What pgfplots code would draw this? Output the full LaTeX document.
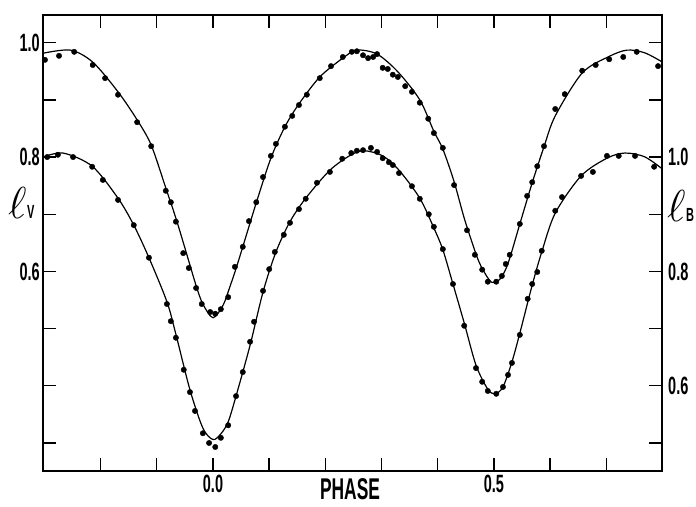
\documentclass[border=0pt]{standalone}
\usepackage{fontspec}
\usepackage{graphicx}
\usepackage{pgfplots}
\usepackage{pgfplotstable}
\pgfplotsset{compat=1.18}
\newfontfamily\cond{Liberation Sans}[FakeStretch=0.58]

\pgfplotstableread{
x y
-0.305 0.981
-0.254 0.987
-0.214 0.966
-0.169 0.914
-0.135 0.865
-0.110 0.821
-0.084 0.746
-0.066 0.693
-0.050 0.641
-0.030 0.575
-0.018 0.543
0.000 0.519
0.018 0.541
0.030 0.573
0.041 0.605
0.053 0.643
0.077 0.720
0.103 0.798
0.128 0.853
0.153 0.893
0.190 0.940
0.231 0.973
0.256 0.987
0.292 0.980
0.329 0.949
0.368 0.900
0.393 0.845
0.409 0.814
0.429 0.757
0.448 0.690
0.470 0.625
0.482 0.600
0.496 0.581
0.511 0.587
0.525 0.614
0.546 0.683
0.568 0.755
0.589 0.818
0.609 0.872
0.657 0.947
0.705 0.976
0.737 0.987
0.769 0.982
0.805 0.963
}\Vcurve

\pgfplotstableread{
x y
-0.299 0.970
-0.274 0.977
-0.247 0.984
-0.214 0.961
-0.192 0.938
-0.169 0.909
-0.135 0.861
-0.110 0.819
-0.084 0.741
-0.075 0.721
-0.066 0.687
-0.053 0.632
-0.043 0.606
-0.030 0.571
-0.020 0.543
-0.005 0.529
0.004 0.526
0.014 0.534
0.027 0.555
0.039 0.608
0.053 0.643
0.064 0.688
0.077 0.721
0.089 0.765
0.103 0.802
0.112 0.823
0.128 0.853
0.141 0.872
0.153 0.891
0.167 0.909
0.190 0.938
0.210 0.959
0.231 0.975
0.247 0.984
0.256 0.985
0.267 0.978
0.276 0.973
0.285 0.975
0.292 0.980
0.302 0.956
0.311 0.954
0.320 0.944
0.329 0.940
0.342 0.924
0.354 0.914
0.368 0.895
0.383 0.867
0.393 0.842
0.409 0.816
0.429 0.751
0.452 0.672
0.466 0.629
0.479 0.603
0.489 0.582
0.504 0.582
0.514 0.592
0.521 0.613
0.528 0.629
0.546 0.683
0.559 0.732
0.568 0.756
0.577 0.784
0.589 0.819
0.609 0.884
0.626 0.910
0.657 0.951
0.681 0.961
0.705 0.971
0.730 0.975
0.754 0.984
0.792 0.959
}\Vdots

\pgfplotstableread{
x y
-0.305 0.999
-0.267 1.007
-0.215 0.984
-0.169 0.928
-0.141 0.881
-0.114 0.824
-0.082 0.747
-0.066 0.690
-0.041 0.593
-0.018 0.526
0.000 0.506
0.014 0.516
0.027 0.537
0.041 0.582
0.066 0.671
0.089 0.764
0.112 0.834
0.137 0.887
0.165 0.928
0.208 0.977
0.246 1.004
0.270 1.011
0.302 1.002
0.331 0.977
0.368 0.928
0.393 0.876
0.409 0.838
0.427 0.778
0.447 0.710
0.468 0.636
0.489 0.594
0.502 0.586
0.516 0.598
0.532 0.642
0.546 0.692
0.568 0.776
0.585 0.834
0.609 0.902
0.655 0.967
0.701 0.998
0.733 1.007
0.769 1.000
0.805 0.975
}\Bcurve

\pgfplotstableread{
x y
-0.295 1.000
-0.276 1.004
-0.249 1.000
-0.215 0.983
-0.196 0.960
-0.169 0.925
-0.141 0.881
-0.114 0.824
-0.082 0.743
-0.075 0.713
-0.066 0.684
-0.052 0.628
-0.041 0.589
-0.032 0.556
-0.018 0.517
-0.007 0.500
0.004 0.493
0.014 0.509
0.027 0.531
0.041 0.582
0.053 0.624
0.066 0.677
0.073 0.712
0.089 0.766
0.100 0.804
0.110 0.834
0.126 0.864
0.137 0.885
0.153 0.909
0.165 0.927
0.185 0.955
0.208 0.974
0.230 0.997
0.246 1.007
0.256 1.011
0.267 1.012
0.281 1.016
0.292 1.009
0.302 0.998
0.313 0.991
0.320 0.986
0.331 0.972
0.354 0.949
0.368 0.927
0.384 0.900
0.393 0.878
0.409 0.839
0.427 0.778
0.447 0.705
0.468 0.631
0.479 0.607
0.489 0.591
0.504 0.586
0.516 0.598
0.525 0.619
0.532 0.640
0.546 0.689
0.560 0.752
0.568 0.778
0.577 0.799
0.585 0.836
0.609 0.906
0.621 0.930
0.655 0.967
0.676 0.974
0.701 1.002
0.722 1.002
0.751 1.002
0.785 0.983
}\Bdots

\begin{document}
\begin{tikzpicture}
\pgfplotsset{
  common/.style={
    scale only axis, width=619pt, height=456pt,
    at={(0,0)}, anchor=south west,
    xmin=-0.3025, xmax=0.799,
    tick align=inside, major tick length=13pt,
    every tick/.style={line width=1.4pt, black},
    tick label style={font=\cond\bfseries\fontsize{25}{25}\selectfont},
  }
}
\begin{axis}[common, name=main,
  ymin=0.251, ymax=1.0484,
  xtick={-0.2,-0.1,0,0.1,0.2,0.3,0.4,0.5,0.6,0.7},
  xticklabels={,,0.0,,,,,0.5,,},
  ytick={0.3,0.4,0.5,0.6,0.7,0.8,0.9,1.0},
  yticklabels={,,,0.6,,0.8,,1.0},
  xtick pos=both, ytick pos=left,
  axis line style={line width=1.8pt},
  yticklabel style={inner sep=3pt},
  xticklabel style={inner sep=4pt},
]
\addplot[black, line width=1.2pt, smooth] table {\Vcurve};
\addplot[only marks, mark=*, mark size=2.7pt, black] table {\Vdots};
\end{axis}
\begin{axis}[common,
  ymin=0.451, ymax=1.2484,
  axis x line=none, axis y line*=right,
  y axis line style={-, line width=1.8pt},
  ytick={0.5,0.6,0.7,0.8,0.9,1.0,1.1,1.2},
  yticklabels={,0.6,,0.8,,1.0,,},
  yticklabel style={inner sep=6pt},
]
\addplot[black, line width=1.2pt, smooth] table {\Bcurve};
\addplot[only marks, mark=*, mark size=2.7pt, black] table {\Bdots};
\end{axis}
\node[anchor=base west, inner sep=0pt] at ([xshift=-35pt, yshift=252pt]main.south west)
  {\scalebox{1.8}{\Huge$\ell$}\kern0.5pt{\cond\bfseries\fontsize{19}{19}\selectfont V}};
\node[anchor=base west, inner sep=0pt] at ([xshift=624pt, yshift=249pt]main.south west)
  {\scalebox{1.8}{\Huge$\ell$}\kern0.5pt{\cond\bfseries\fontsize{19}{19}\selectfont B}};
\node[anchor=base, inner sep=0pt, font=\cond\bfseries\fontsize{30}{30}\selectfont]
  at ([xshift=307pt, yshift=-28pt]main.south west) {PHASE};
\pgfresetboundingbox
\path[use as bounding box] (-43pt,-35pt) rectangle (653pt,471pt);
\end{tikzpicture}
\end{document}
